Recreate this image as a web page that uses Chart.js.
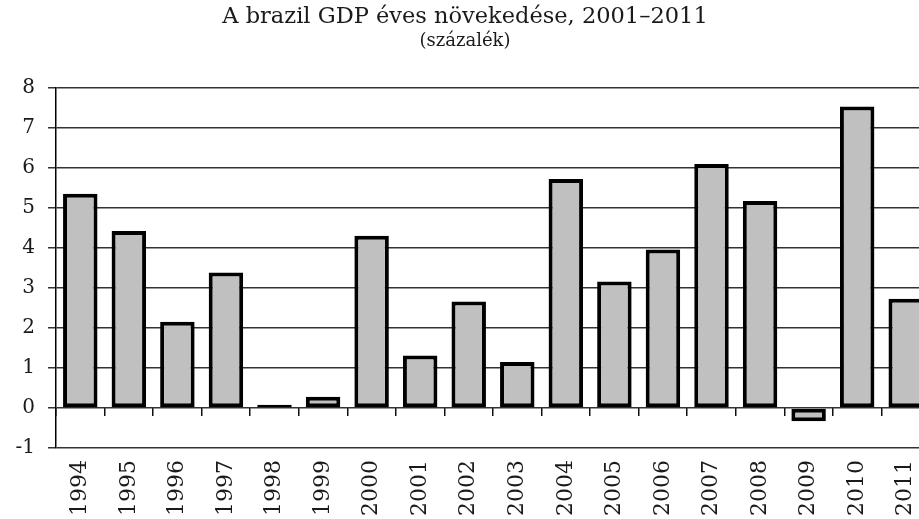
<!DOCTYPE html>
<html>
<head>
<meta charset="utf-8">
<script src="https://cdn.jsdelivr.net/npm/chart.js@4"></script>
<style>
  html, body { margin: 0; padding: 0; background: #fff; overflow: hidden; }
  #wrap { width: 934px; height: 519px; }
</style>
</head>
<body>
<div id="wrap"><canvas id="c" width="934" height="519"></canvas></div>
<script>
const years = ["1994","1995","1996","1997","1998","1999","2000","2001","2002","2003","2004","2005","2006","2007","2008","2009","2010","2011"];
const growth = [5.35, 4.42, 2.15, 3.38, 0.08, 0.28, 4.30, 1.31, 2.66, 1.15, 5.72, 3.16, 3.96, 6.09, 5.17, -0.33, 7.53, 2.73];
const yTicks = [-1, 0, 1, 2, 3, 4, 5, 6, 7, 8];
const titleText = "A brazil GDP éves növekedése, 2001–2011";
const subtitleText = "(százalék)";

const serif = "'DejaVu Serif', 'Liberation Serif', serif";

new Chart(document.getElementById('c'), {
  type: 'bar',
  data: {
    labels: years,
    datasets: [{
      data: growth,
      backgroundColor: '#c0c0c0',
      borderColor: '#000000',
      borderWidth: 4,
      borderSkipped: false,
      barPercentage: 0.71,
      categoryPercentage: 1.0,
      xAxisID: 'x'
    }]
  },
  options: {
    responsive: false,
    animation: false,
    devicePixelRatio: 1,
    layout: { padding: { left: 0, right: 4, top: 0, bottom: 0 } },
    plugins: {
      legend: { display: false },
      tooltip: { enabled: false },
      title: {
        display: true,
        text: titleText,
        color: '#1a1a1a',
        font: { family: serif, size: 22.5, weight: 'normal' },
        padding: { top: 4, bottom: 0 }
      },
      subtitle: {
        display: true,
        text: subtitleText,
        color: '#1a1a1a',
        font: { family: serif, size: 18, weight: 'normal' },
        padding: { top: 0, bottom: 35 }
      }
    },
    scales: {
      x: {
        type: 'category',
        position: 'bottom',
        offset: true,
        grid: { display: false, drawTicks: false },
        border: { display: false },
        ticks: {
          minRotation: 90,
          maxRotation: 90,
          autoSkip: false,
          padding: 12,
          color: '#1a1a1a',
          font: { family: serif, size: 22 }
        },
        afterFit: (s) => { s.height = 71; s.paddingRight = 0; s.paddingLeft = 0; }
      },
      x0: {
        type: 'category',
        position: { y: 0 },
        offset: true,
        grid: {
          offset: true,
          drawOnChartArea: false,
          drawTicks: true,
          tickLength: 8,
          color: '#111',
          lineWidth: 1.5
        },
        border: { display: false },
        ticks: { display: false }
      },
      y: {
        min: -1,
        max: 8,
        afterBuildTicks: (s) => { s.ticks = yTicks.map(v => ({ value: v })); },
        ticks: {
          padding: 13,
          color: '#1a1a1a',
          font: { family: serif, size: 20 }
        },
        grid: {
          color: '#333',
          lineWidth: 1.5,
          tickLength: 8,
          drawTicks: true
        },
        border: { display: true, color: '#000', width: 1.5 },
        afterFit: (s) => { s.width = 56; }
      }
    }
  }
});
</script>
</body>
</html>
